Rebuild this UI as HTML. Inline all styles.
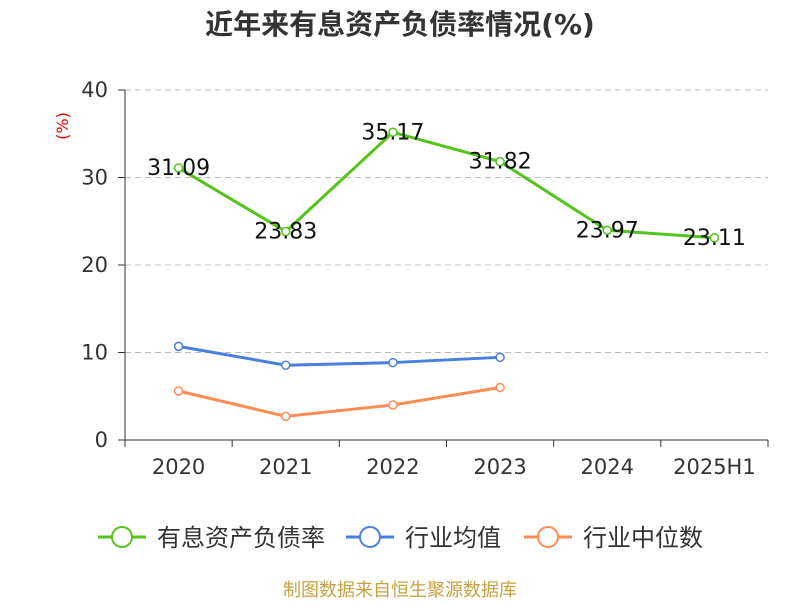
<!DOCTYPE html>
<html><head><meta charset="utf-8"><style>
body{margin:0;background:#fff;}
svg text{font-family:"DejaVu Sans","Noto Sans CJK SC",sans-serif;}
</style></head><body>
<svg id="chart" width="800" height="600" xmlns="http://www.w3.org/2000/svg">
<text x="400" y="34" text-anchor="middle" font-size="28" font-weight="bold" fill="#333">近年来有息资产负债率情况(%)</text>
<text x="68" y="126" font-size="16" fill="#e00" transform="rotate(-90 68 126)" text-anchor="middle">(%)</text>
<g id="grid"></g><g id="axes"></g><g id="series"></g>
<g>
 <g><line x1="98" y1="537" x2="146" y2="537" stroke="#52c41a" stroke-width="3"/><circle cx="122" cy="537" r="10" fill="#fff" stroke="#52c41a" stroke-width="2"/><text x="157" y="546" font-size="24" fill="#333">有息资产负债率</text></g>
 <g><line x1="346" y1="537" x2="394" y2="537" stroke="#4a7fe0" stroke-width="3"/><circle cx="370" cy="537" r="10" fill="#fff" stroke="#4a7fe0" stroke-width="2"/><text x="405" y="546" font-size="24" fill="#333">行业均值</text></g>
 <g><line x1="524" y1="537" x2="572" y2="537" stroke="#ff8c55" stroke-width="3"/><circle cx="548" cy="537" r="10" fill="#fff" stroke="#ff8c55" stroke-width="2"/><text x="583" y="546" font-size="24" fill="#333">行业中位数</text></g>
</g>
<text x="400" y="596" text-anchor="middle" font-size="18" fill="#c8a040">制图数据来自恒生聚源数据库</text>
</svg>
<script>
const categories=["2020","2021","2022","2023","2024","2025H1"];
const debtRatio=[31.09,23.83,35.17,31.82,23.97,23.11];
const industryAvg=[10.7,8.55,8.85,9.45];
const industryMedian=[5.6,2.7,4.0,6.0];
const yTicks=[0,10,20,30,40];
const NS="http://www.w3.org/2000/svg";
const x0=125,x1=768,y0=440,yTop=90,yMax=40;
const bw=(x1-x0)/categories.length;
const X=i=>x0+bw*(i+0.5);
const Y=v=>y0-(v/yMax)*(y0-yTop);
function mk(parent,tag,attrs){const e=document.createElementNS(NS,tag);for(const k in attrs)e.setAttribute(k,attrs[k]);document.getElementById(parent).appendChild(e);return e;}
yTicks.forEach(t=>{
 if(t>0){const g=mk("grid","line",{x1:x0,x2:x1,y1:Y(t),y2:Y(t),stroke:"#bbb","stroke-dasharray":"6,4"});
 
 }
 const tk=mk("axes","line",{x1:x0-7,x2:x0,y1:Y(t),y2:Y(t),stroke:"#333"});
 
 
 const l=mk("axes","text",{x:x0-17,y:Y(t)+7,"text-anchor":"end","font-size":21,fill:"#333"});l.textContent=t;
 
 
});
const ya=mk("axes","line",{x1:x0,x2:x0,y1:yTop,y2:y0,stroke:"#333"});


const xa=mk("axes","line",{x1:x0,x2:x1,y1:y0,y2:y0,stroke:"#333"});


for(let i=0;i<=categories.length;i++){const t=mk("axes","line",{x1:x0+bw*i,x2:x0+bw*i,y1:y0,y2:y0+7,stroke:"#333"});
 
 }
categories.forEach((c,i)=>{const l=mk("axes","text",{x:X(i),y:474,"text-anchor":"middle","font-size":21,fill:"#333"});l.textContent=c;
 
 });
function series(data,color,name,labels){
 const p=mk("series","polyline",{points:data.map((v,i)=>X(i)+","+Y(v)).join(" "),fill:"none",stroke:color,"stroke-width":3});
 
 
 data.forEach((v,i)=>{const c=mk("series","circle",{cx:X(i),cy:Y(v),r:4,fill:"#fff",stroke:color,"stroke-width":1.5});
  
  
  if(labels){const t=mk("series","text",{x:X(i),y:Y(v)+7,"text-anchor":"middle","font-size":22,fill:"#111"});t.textContent=v.toFixed(2);
   
   }
 });
}
series(industryAvg,"#4a7fe0","industry-avg",false);
series(industryMedian,"#ff8c55","industry-median",false);
series(debtRatio,"#52c41a","debt-ratio",true);
</script>
</body></html>
